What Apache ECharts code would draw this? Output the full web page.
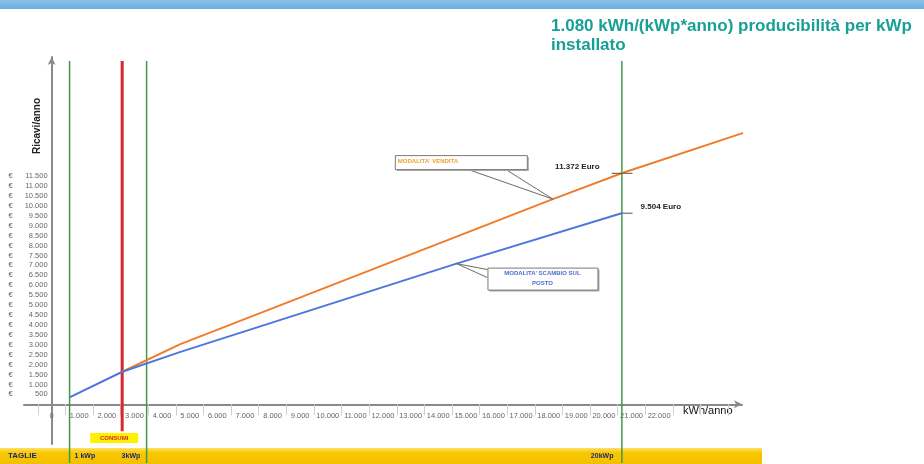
<!DOCTYPE html>
<html>
<head>
<meta charset="utf-8">
<script src="https://cdn.jsdelivr.net/npm/echarts@6/dist/echarts.min.js"></script>
<style>
  html, body { margin: 0; padding: 0; background: #fff; }
  #main { width: 924px; height: 464px; }
</style>
</head>
<body>
<div id="main"></div>
<script type="text/javascript">
    // dati (kWh/anno, Euro/anno)
    var venditaKwh = [2560, 4640, 18150, 20640, 25470];
    var venditaEuro = [1640, 3020, 10340, 11640, 13870];
    var scambioKwh = [650, 2560, 4640, 14660, 20640];
    var scambioEuro = [350, 1640, 2630, 7090, 9630];
    var taglieKwh = [650, 3440, 20650];
    var taglieLabels = ['1 kWp', '3kWp', '20kWp'];
    var consumiKwh = 2555;
    var ricavoVendita = '11.372 Euro';
    var ricavoScambio = '9.504 Euro';

    function pairs(xs, ys) {
        return xs.map(function (x, i) { return [x, ys[i]]; });
    }
    function fmt(v) {
        return String(v).replace(/\B(?=(\d{3})+(?!\d))/g, '.');
    }

    var myChart = echarts.init(document.getElementById('main'));
    var font = "'Liberation Sans', Arial, sans-serif";

    // griglia: l'origine degli assi cade dentro l'area (assi incrociati)
    var gLeft = 24, gRight = 182, gTop = 57, gBottom = 20;
    var xMin = -1000, xMax = 25000, yMin = -2000, yMax = 17500;
    var gW = 924 - gLeft - gRight, gH = 464 - gTop - gBottom;
    var xOff = -gW * (0 - xMin) / (xMax - xMin);
    var yOff = -gH * (0 - yMin) / (yMax - yMin);

    var vertSeries = taglieKwh.map(function (k) {
        return {
            type: 'line', silent: true, symbol: 'none', clip: false, z: 1,
            lineStyle: { color: '#3f9a4c', width: 1.5 },
            data: [[k, 17300], [k, -2960]]
        };
    });
    vertSeries.push({
        type: 'line', silent: true, symbol: 'none', clip: false, z: 1,
        lineStyle: { color: '#d8262a', width: 3 },
        data: [[consumiKwh, 17300], [consumiKwh, -1360]]
    });

    var option = {
        animation: false,
        textStyle: { fontFamily: font },
        grid: { left: gLeft, right: gRight, top: gTop, bottom: gBottom, containLabel: false, outerBoundsMode: 'none' },
        xAxis: {
            type: 'value', min: xMin, max: xMax, interval: 1000, offset: yOff,
            axisLine: { onZero: false, symbol: ['none', 'arrow'], symbolSize: [6, 8], lineStyle: { color: '#8a8a8a', width: 2 } },
            axisTick: { show: false },
            minorTick: { show: true, splitNumber: 2, length: 11, lineStyle: { color: '#d0d0d0' } },
            splitLine: { show: false },
            axisLabel: {
                fontSize: 7.5, color: '#666', margin: 8,
                formatter: function (v) { return (v < 0 || v > 22000) ? '' : fmt(v); }
            }
        },
        yAxis: {
            type: 'value', min: yMin, max: yMax, interval: 500, offset: xOff,
            axisLine: { onZero: false, symbol: ['none', 'arrow'], symbolSize: [6, 8], lineStyle: { color: '#8a8a8a', width: 2 } },
            axisTick: { show: false },
            splitLine: { show: false },
            axisLabel: {
                margin: 4, color: '#666', fontSize: 7.5,
                formatter: function (v) {
                    if (v < 500 || v > 11500) return '';
                    return '{e|€}{n|' + fmt(v) + '}';
                },
                rich: {
                    e: { fontSize: 7.5, color: '#666', width: 14, align: 'left' },
                    n: { fontSize: 7.5, color: '#666', width: 25, align: 'right' }
                }
            }
        },
        series: vertSeries.concat([{
            name: "MODALITA' VENDITA",
            type: 'line', symbol: 'none', clip: false, z: 3,
            lineStyle: { color: '#f07c2c', width: 2 },
            data: pairs(venditaKwh, venditaEuro)
        }, {
            name: "MODALITA' SCAMBIO SUL POSTO",
            type: 'line', symbol: 'none', clip: false, z: 3,
            lineStyle: { color: '#4d76de', width: 2 },
            data: pairs(scambioKwh, scambioEuro)
        }])
    };
    myChart.setOption(option);

    // annotazioni posizionate dai dati
    var tipV = myChart.convertToPixel({ gridIndex: 0 }, [venditaKwh[2], venditaEuro[2]]);
    var tipS = myChart.convertToPixel({ gridIndex: 0 }, [scambioKwh[3], scambioEuro[3]]);
    var endV = myChart.convertToPixel({ gridIndex: 0 }, [venditaKwh[3], venditaEuro[3]]);
    var endS = myChart.convertToPixel({ gridIndex: 0 }, [scambioKwh[4], scambioEuro[4]]);
    var tagX = taglieKwh.map(function (k) { return myChart.convertToPixel({ gridIndex: 0 }, [k, 0])[0]; });
    var consX = myChart.convertToPixel({ gridIndex: 0 }, [consumiKwh, 0])[0];

    var callStroke = { stroke: '#7a7a7a', lineWidth: 1 };
    var graphic = [
        // fascia blu in alto
        { type: 'rect', left: 0, top: 0, shape: { width: 924, height: 9 },
          style: { fill: new echarts.graphic.LinearGradient(0, 0, 0, 1, [{ offset: 0, color: '#8cc2e8' }, { offset: 1, color: '#6aaee0' }]) }, z: 0 },
        { type: 'text', left: 551, top: 18, style: { text: '1.080 kWh/(kWp*anno) producibilità per kWp', font: 'bold 17px ' + font, fill: '#17a096' } },
        { type: 'text', left: 551, top: 37, style: { text: 'installato', font: 'bold 17px ' + font, fill: '#17a096' } },
        // nomi assi
        { type: 'text', x: 37, y: 126, rotation: Math.PI / 2, style: { text: 'Ricavi/anno', font: 'bold 10px ' + font, fill: '#222', align: 'center', verticalAlign: 'middle' } },
        { type: 'text', left: 683, top: 405, style: { text: 'kWh/anno', font: '11px ' + font, fill: '#111' } },
        // fascia taglie
        { type: 'rect', left: 0, top: 448, z: 0, shape: { width: 762, height: 16 },
          style: { fill: new echarts.graphic.LinearGradient(0, 0, 0, 1, [{ offset: 0, color: '#ffe066' }, { offset: 0.3, color: '#f8c800' }, { offset: 1, color: '#f3c000' }]) } },
        { type: 'text', left: 8, top: 452, z: 5, style: { text: 'TAGLIE', font: 'bold 8px ' + font, fill: '#1c2a6c' } },
        { type: 'text', left: tagX[0] + 5, top: 453, z: 5, style: { text: taglieLabels[0], font: 'bold 7px ' + font, fill: '#1c2a6c' } },
        { type: 'text', left: tagX[1] - 25, top: 453, z: 5, style: { text: taglieLabels[1], font: 'bold 7px ' + font, fill: '#1c2a6c' } },
        { type: 'text', left: tagX[2] - 31, top: 453, z: 5, style: { text: taglieLabels[2], font: 'bold 7px ' + font, fill: '#1c2a6c' } },
        // consumi
        { type: 'rect', left: consX - 32, top: 433, z: 5, shape: { width: 48, height: 10 }, style: { fill: '#fff200' } },
        { type: 'text', x: consX - 8, y: 438, z: 6, style: { text: 'CONSUMI', font: 'bold 6px ' + font, fill: '#d8262a', align: 'center', verticalAlign: 'middle' } },
        // callout vendita
        { type: 'polyline', z: 4, shape: { points: [[tipV[0] - 83, tipV[1] - 29], [tipV[0], tipV[1]], [tipV[0] - 46, tipV[1] - 29]] }, style: { stroke: '#6a6a6a', lineWidth: 1, fill: null } },
        { type: 'rect', z: 4, left: tipV[0] - 156, top: tipV[1] - 42, shape: { width: 132, height: 14 }, style: { fill: '#aaa' } },
        { type: 'rect', z: 4, left: tipV[0] - 158, top: tipV[1] - 44, shape: { width: 132, height: 14 }, style: Object.assign({ fill: '#fff' }, callStroke) },
        { type: 'text', z: 5, left: tipV[0] - 155, top: tipV[1] - 41, style: { text: "MODALITA' VENDITA", font: 'bold 6px ' + font, fill: '#f0a030' } },
        // callout scambio
        { type: 'polyline', z: 4, shape: { points: [[tipS[0] + 31, tipS[1] + 6], [tipS[0], tipS[1]], [tipS[0] + 31, tipS[1] + 14]] }, style: { stroke: '#6a6a6a', lineWidth: 1, fill: null } },
        { type: 'rect', z: 4, left: tipS[0] + 33, top: tipS[1] + 6, shape: { width: 110, height: 22 }, style: { fill: '#aaa' } },
        { type: 'rect', z: 4, left: tipS[0] + 31, top: tipS[1] + 4, shape: { width: 110, height: 22 }, style: Object.assign({ fill: '#fff' }, callStroke) },
        { type: 'text', z: 5, x: tipS[0] + 86, y: tipS[1] + 10, style: { text: "MODALITA' SCAMBIO SUL", font: 'bold 6px ' + font, fill: '#4a6cd0', align: 'center', verticalAlign: 'middle' } },
        { type: 'text', z: 5, x: tipS[0] + 86, y: tipS[1] + 20, style: { text: 'POSTO', font: 'bold 6px ' + font, fill: '#4a6cd0', align: 'center', verticalAlign: 'middle' } },
        // valori a 20 kWp
        { type: 'line', z: 4, shape: { x1: endV[0] - 10, y1: endV[1], x2: endV[0] + 11, y2: endV[1] }, style: { stroke: '#555', lineWidth: 1 } },
        { type: 'line', z: 4, shape: { x1: endS[0], y1: endS[1], x2: endS[0] + 11, y2: endS[1] }, style: { stroke: '#555', lineWidth: 1 } },
        { type: 'text', z: 5, x: endV[0] - 22, y: endV[1] - 7, style: { text: ricavoVendita, font: 'bold 8px ' + font, fill: '#222', align: 'right', verticalAlign: 'middle' } },
        { type: 'text', z: 5, x: endS[0] + 19, y: endS[1] - 6, style: { text: ricavoScambio, font: 'bold 8px ' + font, fill: '#222', align: 'left', verticalAlign: 'middle' } }
    ];
    myChart.setOption({ graphic: graphic });
</script>
</body>
</html>
